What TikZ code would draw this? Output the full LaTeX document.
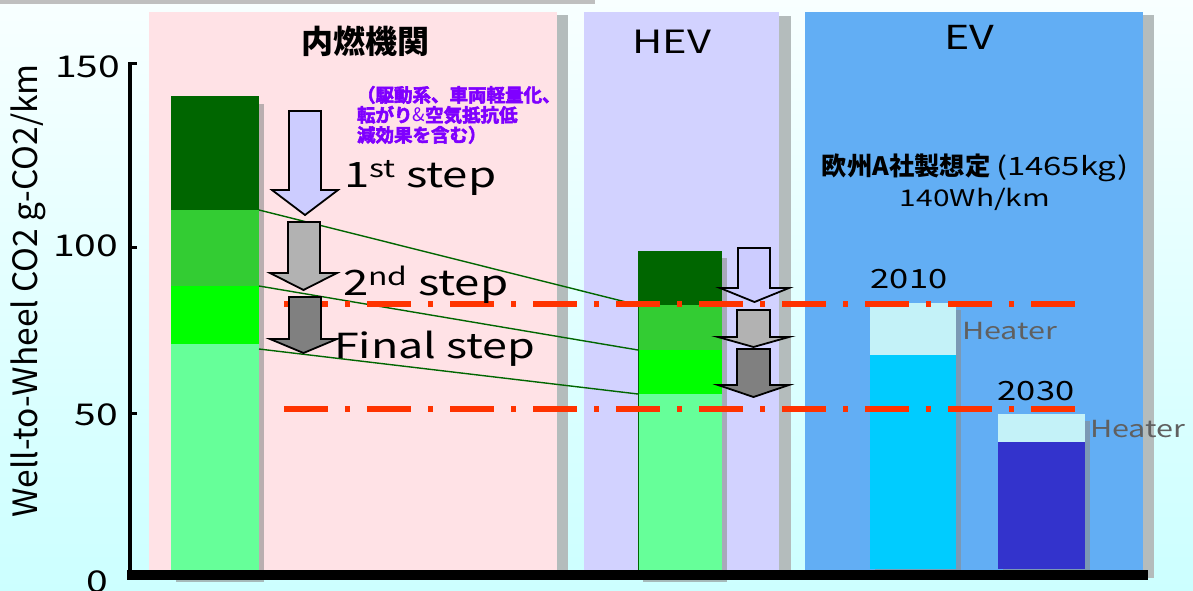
\documentclass[tikz,border=0pt]{standalone}
\usepackage{fontspec}
\setmainfont{Noto Sans CJK JP}
\newfontfamily\wide[FakeStretch=1.3]{Noto Sans CJK JP}
\newfontfamily\heavy[FakeBold=3]{Noto Sans CJK JP Bold}
\newcommand\fsz[1]{\fontsize{#1}{#1}\selectfont}
\definecolor{bgtop}{HTML}{F8FFFF}
\definecolor{bgbot}{HTML}{CCFFFF}
\definecolor{icepanel}{HTML}{FFE2E6}
\definecolor{hevpanel}{HTML}{D2D2FF}
\definecolor{evpanel}{HTML}{62AEF4}
\definecolor{pshadow}{HTML}{B4BCBC}
\definecolor{dgreen}{HTML}{006600}
\definecolor{mgreen}{HTML}{33CC33}
\definecolor{bgreen}{HTML}{00FF00}
\definecolor{lgreen}{HTML}{66FF99}
\definecolor{lav}{HTML}{CCCCFF}
\definecolor{gray2}{HTML}{B2B2B2}
\definecolor{gray3}{HTML}{808080}
\definecolor{purp}{HTML}{7F00FF}
\definecolor{redl}{HTML}{FF3300}
\definecolor{cyanbar}{HTML}{00CCFF}
\definecolor{heat}{HTML}{C4F2F8}
\definecolor{dblue}{HTML}{3333CC}
\definecolor{heattxt}{HTML}{606060}
\newcommand\barrow[8]{\draw[blk,fill=#1] (#2,#4) -- (#3,#4) -- (#3,#5) -- (#7,#5) -- ({(#6+#7)/2},#8) -- (#6,#5) -- (#2,#5) -- cycle;}
\begin{document}
\begin{tikzpicture}[x=1pt,y=-1pt,
  seg/.style={rectangle,inner sep=0pt,outer sep=0pt,anchor=north west,draw=none},
  lbl/.style={inner sep=0pt,outer sep=0pt},
  blk/.style={draw=black,line width=1.8pt,line join=miter},
  gline/.style={draw=dgreen,line width=1.4pt},
  redline/.style={draw=redl,line width=6pt,dash pattern=on 44pt off 17pt on 5pt off 17pt},
  bshadow/.style={fill=black!45,opacity=0.6}]
\useasboundingbox (0,0) rectangle (1193,590);
% background
\shade[top color=bgtop,bottom color=bgbot] (0,0) rectangle (1193,590);
\fill[black!25] (0,0) rectangle (595,4);
% panels
\fill[pshadow] (557,15) rectangle (568,576);
\fill[icepanel] (149,12) rectangle (557,571);
\fill[pshadow] (779,16) rectangle (791,576);
\fill[hevpanel] (584,12) rectangle (779,571);
\fill[pshadow] (1143,15) rectangle (1154,578);
\fill[evpanel] (805,12) rectangle (1143,571);
% titles
\node[lbl,font=\fsz{32}\bfseries] (tice) at (365,41) {内燃機関};
\node[lbl,font=\fsz{32}\wide,anchor=base] (thev) at (672,53) {HEV};
\node[lbl,font=\fsz{33}\wide,anchor=base] (tev) at (969,49) {EV};
% axis labels
\node[lbl,font=\fsz{33.5},anchor=base,rotate=90] (ylab) at (37,291) {Well-to-Wheel CO2 g-CO2/km};
\node[lbl,font=\fsz{30}\wide,anchor=base east] (t150) at (120,77) {150};
\node[lbl,font=\fsz{30}\wide,anchor=base east] (t100) at (118,256) {100};
\node[lbl,font=\fsz{30}\wide,anchor=base east] (t50) at (118,425) {50};
\node[lbl,font=\fsz{30}\wide,anchor=base east] (t0) at (108,592) {0};
% bar shadows
\fill[bshadow] (176,104) rectangle (264,582);
\fill[bshadow] (643,258) rectangle (727,582);
\fill[bshadow] (875,310) rectangle (961,574);
\fill[bshadow] (1003,421) rectangle (1090,574);
% ICE bar
\node[seg,fill=dgreen,minimum width=88pt,minimum height=114pt] (ice1) at (171,96) {};
\node[seg,fill=mgreen,minimum width=88pt,minimum height=76pt] (ice2) at (171,210) {};
\node[seg,fill=bgreen,minimum width=88pt,minimum height=58pt] (ice3) at (171,286) {};
\node[seg,fill=lgreen,minimum width=88pt,minimum height=227pt] (ice4) at (171,344) {};
% HEV bar
\node[seg,fill=dgreen,minimum width=84pt,minimum height=54pt] (hev1) at (638,251) {};
\node[seg,fill=mgreen,minimum width=84pt,minimum height=45pt] (hev2) at (638,305) {};
\node[seg,fill=bgreen,minimum width=84pt,minimum height=44pt] (hev3) at (638,350) {};
\node[seg,fill=lgreen,minimum width=84pt,minimum height=177pt] (hev4) at (638,394) {};
\draw[dgreen,line width=1pt] (hev2.north west) -- (hev4.south west);
% EV bars
\node[seg,fill=heat,minimum width=86pt,minimum height=52pt] (ev1h) at (870,303) {};
\node[seg,fill=cyanbar,minimum width=86pt,minimum height=214pt] (ev1) at (870,355) {};
\node[seg,fill=heat,minimum width=87pt,minimum height=28pt] (ev2h) at (998,414) {};
\node[seg,fill=dblue,minimum width=87pt,minimum height=127pt] (ev2) at (998,442) {};
% green connectors
\draw[gline] (ice2.north east) -- (hev2.north west);
\draw[gline] (ice3.north east) -- (hev3.north west);
\draw[gline] ([yshift=-5pt]ice4.north east) -- (hev4.north west);
% red dash-dot lines
\coordinate (r1a) at (284,304); \coordinate (r1b) at (1075,304);
\coordinate (r2a) at (284,409); \coordinate (r2b) at (1075,409);
\draw[redline] (r1a) -- (r1b);
\draw[redline] (r2a) -- (r2b);
% arrows
\barrow{lav}{289}{321}{111}{190}{272}{338}{215}
\barrow{gray2}{288}{320}{222}{273}{270}{337}{290}
\barrow{gray3}{289}{321}{297}{339}{270}{337}{353}
\barrow{lav}{738}{770}{248}{288}{720}{789}{302}
\barrow{gray2}{737}{770}{310}{337}{718}{789}{347}
\barrow{gray3}{737}{770}{349}{385}{718}{789}{397}
% step labels
\node[lbl,font=\fsz{35}\wide,anchor=base west] (s1) at (344,187) {1\textsuperscript{st} step};
\node[lbl,font=\fsz{35}\wide,anchor=base west] (s2) at (343,295) {2\textsuperscript{nd} step};
\node[lbl,font=\fsz{34.5}\wide,anchor=base west] (s3) at (334,358) {Final step};
\node[lbl,font=\fontsize{18.5}{20}\selectfont\heavy,text=purp,anchor=north west,align=left] (note) at (357,86) {（駆動系、車両軽量化、\\転がり{\mdseries\normalfont\&}空気抵抗低\\減効果を含む）};
% EV texts
\node[lbl,font=\fsz{25.3},anchor=base] (evnote) at (975,175) {{\bfseries 欧州A社製想定} {\wide(1465kg)}};
\node[lbl,font=\fsz{23}\wide,anchor=base] (evwh) at (975,206) {140Wh/km};
\node[lbl,font=\fsz{26.5}\wide,anchor=base] (y2010) at (909,288) {2010};
\node[lbl,font=\fsz{26.5}\wide,anchor=base] (y2030) at (1036,400) {2030};
\node[lbl,font=\fsz{23.5}\wide,text=heattxt,anchor=base west] (h1) at (962,339) {Heater};
\node[lbl,font=\fsz{23.5}\wide,text=heattxt,anchor=base west] (h2) at (1090,437) {Heater};
% axes
\draw[black,line width=3.5pt] (130,62) -- (130,575);
\draw[black,line width=3pt] (128,63) -- (137,63);
\draw[black,line width=3pt] (128,247) -- (137,247);
\draw[black,line width=3pt] (128,413) -- (137,413);
\fill[black] (127,570) rectangle (1148,580);
\end{tikzpicture}
\end{document}
